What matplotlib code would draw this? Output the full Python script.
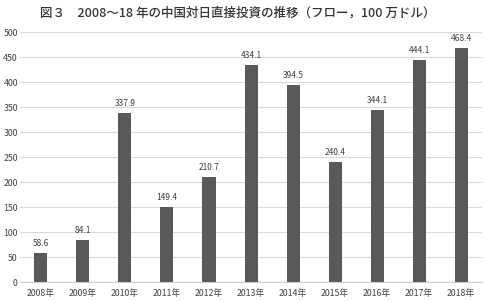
import matplotlib.pyplot as plt

plt.rcParams['font.family'] = ['Noto Sans CJK JP', 'DejaVu Sans']

years = ['2008年', '2009年', '2010年', '2011年', '2012年', '2013年',
         '2014年', '2015年', '2016年', '2017年', '2018年']
values = [58.6, 84.1, 337.9, 149.4, 210.7, 434.1, 394.5, 240.4, 344.1, 444.1, 468.4]
yticks = [0, 50, 100, 150, 200, 250, 300, 350, 400, 450, 500]

fig = plt.figure(figsize=(4.86, 3.02), dpi=100)
ax = fig.add_axes([0.041, 0.066, 0.951, 0.828])

x = range(len(years))
ax.bar(x, values, width=0.31, color='#59595b', zorder=3)
for i, v in zip(x, values):
    ax.text(i, v + 10, f'{v:.1f}', ha='center', va='bottom', fontsize=6, color='#404040')

ax.set_xlim(-0.5, len(years) - 0.5)
ax.set_ylim(0, 500)
ax.set_yticks(yticks)
ax.set_xticks(list(x))
ax.set_xticklabels(years)
ax.tick_params(axis='both', length=0, labelsize=6.3, colors='#404040')
ax.tick_params(axis='y', pad=1.5)
ax.tick_params(axis='x', pad=5)
ax.grid(axis='y', color='#d9d9d9', linewidth=0.8, zorder=0)
for s in ['top', 'right', 'left']:
    ax.spines[s].set_visible(False)
ax.spines['bottom'].set_color('#d0d0d0')

fig.text(0.49, 0.958, '図３　2008～18 年の中国対日直接投資の推移（フロー，100 万ドル）',
         ha='center', va='center', fontsize=9, color='#333333', fontweight='medium')

fig.savefig('out.png', dpi=100)
